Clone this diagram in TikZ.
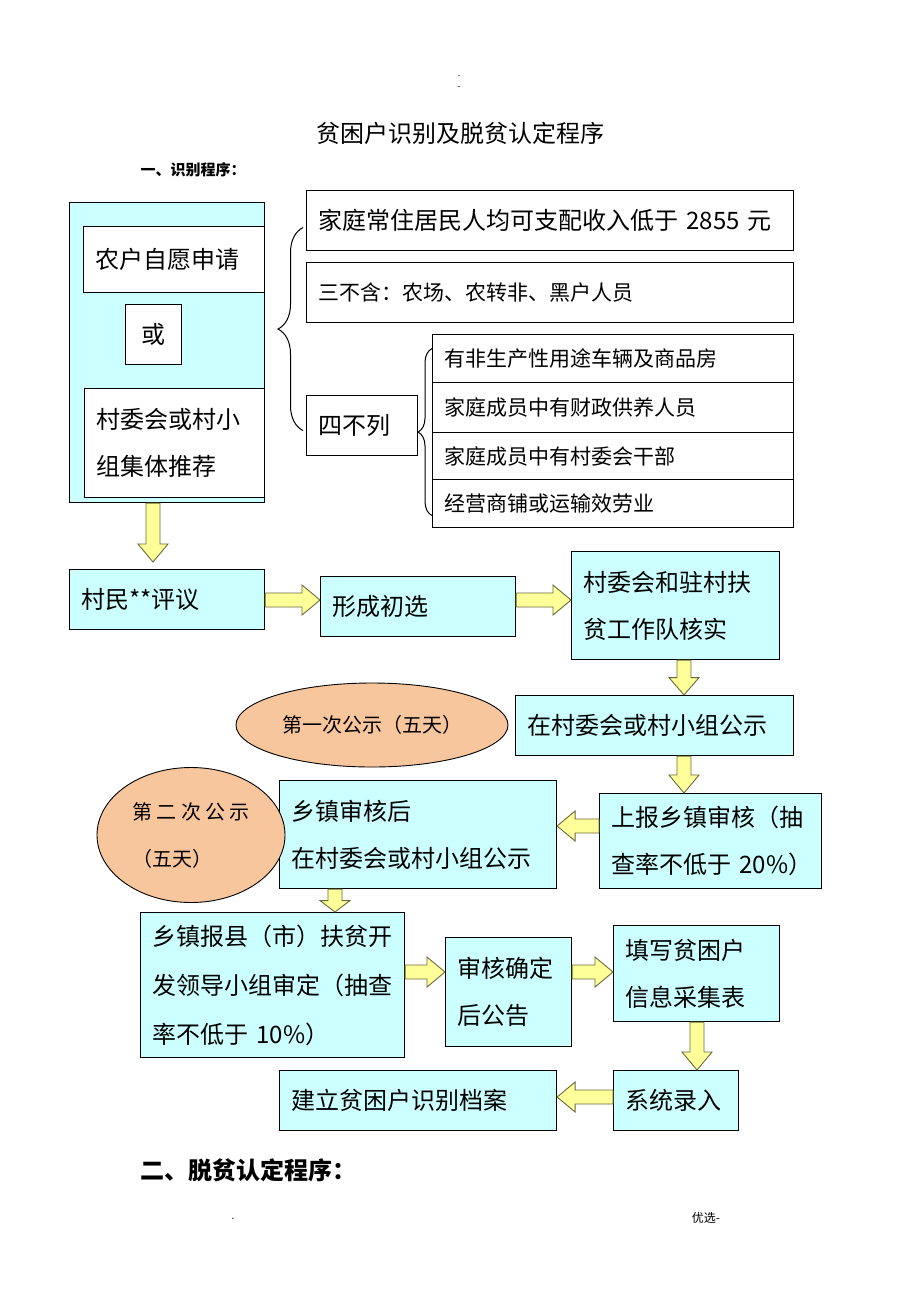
\documentclass[tikz,border=0pt]{standalone}
\usepackage{fontspec}
\setmainfont{Noto Sans CJK SC}
\usetikzlibrary{shapes.geometric,calc,decorations.pathreplacing}

\definecolor{boxcyan}{RGB}{204,255,255}
\definecolor{peach}{RGB}{248,198,156}
\definecolor{arrowyellow}{RGB}{255,255,153}
\definecolor{arrowline}{RGB}{105,105,60}

\tikzset{
  box/.style={draw=black, line width=1.1pt, fill=boxcyan, anchor=north west, inner xsep=12pt, inner ysep=0pt, align=left},
  wbox/.style={box, fill=white},
  oval/.style={ellipse, draw=black, line width=0.9pt, fill=peach, inner sep=0pt},
  fatarrow/.style={fill=arrowyellow, draw=arrowline, line width=0.9pt},
  bracket/.style={draw=black, line width=1pt, decorate},
  f24/.style={font=\fontsize{24}{47}\selectfont},
  f21/.style={font=\fontsize{21}{30}\selectfont},
  f20/.style={font=\fontsize{20}{47}\selectfont},
}

% fat block arrow from #1 to #2
\newcommand\fatarrow[2]{%
  \filldraw[fatarrow] let \p1=#1, \p2=#2,
    \n1={atan2(\y2-\y1,\x2-\x1)}, \n2={veclen(\x2-\x1,\y2-\y1)}, \n3={min(18,\n2/2)} in
    [shift={(\p1)}, rotate=\n1]
    (0,7) -- ({\n2-\n3},7) -- ({\n2-\n3},15) -- (\n2,0) -- ({\n2-\n3},-15) -- ({\n2-\n3},-7) -- (0,-7) -- cycle;}

\begin{document}
\begin{tikzpicture}[x=1pt,y=1pt]
  \useasboundingbox (0,0) rectangle (920,-1302);

  % page marks and headings
  \node[font=\fontsize{9}{10}\selectfont] (dot) at (459,-76) {.};
  \node[font=\fontsize{9}{10}\selectfont] (dash) at (459,-88) {-};
  \node[f24] (title) at (460,-133) {贫困户识别及脱贫认定程序};
  \node[anchor=west, font=\fontsize{15}{18}\selectfont\bfseries] (sec1) at (137,-170) {一、识别程序：};

  % application
  \node[box, minimum width=195pt, minimum height=300pt] (outer) at (69,-202) {};
  \node[wbox, f24, minimum width=181pt, minimum height=66pt, text width=157pt] (apply) at (83,-226) {农户自愿申请};
  \node[wbox, f24, minimum width=56pt, minimum height=60pt, inner xsep=0pt, text width=56pt, align=center] (or) at (125,-304) {或};
  \node[wbox, f24, minimum width=180pt, minimum height=109pt, text width=156pt] (recom) at (84,-388) {村委会或村小\\组集体推荐};

  % conditions
  \node[wbox, f24, minimum width=487pt, minimum height=60pt, text width=463pt] (inc) at (306,-190) {家庭常住居民人均可支配收入低于 2855 元};
  \node[wbox, f21, minimum width=487pt, minimum height=60pt, text width=463pt] (sanbu) at (306,-262) {三不含：农场、农转非、黑户人员};
  \node[wbox, f24, minimum width=111pt, minimum height=60pt, text width=87pt] (sibu) at (306,-395) {四不列};
  \node[wbox, f21, minimum width=361pt, minimum height=48pt, text width=337pt] (l1) at (432,-334) {有非生产性用途车辆及商品房};
  \node[wbox, f21, minimum width=361pt, minimum height=50pt, text width=337pt] (l2) at (432,-382) {家庭成员中有财政供养人员};
  \node[wbox, f21, minimum width=361pt, minimum height=47pt, text width=337pt] (l3) at (432,-432) {家庭成员中有村委会干部};
  \node[wbox, f21, minimum width=361pt, minimum height=48pt, text width=337pt] (l4) at (432,-479) {经营商铺或运输效劳业};
  \draw[bracket, decoration={brace, amplitude=25pt}] ([xshift=-3pt,yshift=-5pt]sibu.west) -- ([xshift=-3pt,yshift=-7pt]inc.west);
  \draw[bracket, decoration={brace, amplitude=14pt}] ([yshift=-12pt]l4.west) -- ([yshift=10pt]l1.west);

  % procedure
  \node[box, f24, minimum width=195pt, minimum height=60pt, text width=171pt] (pingyi) at (69,-569) {村民**评议};
  \node[box, f24, minimum width=195pt, minimum height=60pt, text width=171pt] (chuxuan) at (320,-576) {形成初选};
  \node[box, f24, minimum width=208pt, minimum height=108pt, text width=184pt] (hs) at (571,-551) {村委会和驻村扶\\贫工作队核实};
  \node[box, f24, minimum width=278pt, minimum height=60pt, text width=254pt] (gs1) at (515,-695) {在村委会或村小组公示};
  \node[oval, f20, minimum width=272pt, minimum height=84pt] (e1) at (372,-725) {第一次公示（五天）};
  \node[box, f24, minimum width=222pt, minimum height=95pt, text width=198pt] (sb) at (599,-793) {上报乡镇审核（抽\\\mbox{查率不低于~20\%）}};
  \node[box, f24, minimum width=277pt, minimum height=108pt, text width=253pt] (gs2) at (279,-780) {乡镇审核后\\在村委会或村小组公示};
  \node[oval, f20, minimum width=188pt, minimum height=135pt, align=left] (e2) at (191,-835) {第 二 次 公 示\\（五天）};
  \node[box, f24, font=\fontsize{24}{49}\selectfont, minimum width=264pt, minimum height=145pt, text width=240pt] (xian) at (140,-912) {乡镇报县（市）扶贫开\\发领导小组审定（抽查\\率不低于~10\%）};
  \node[box, f24, minimum width=126pt, minimum height=109pt, text width=102pt] (qd) at (445,-937) {审核确定\\后公告};
  \node[box, f24, minimum width=166pt, minimum height=96pt, text width=142pt] (tx) at (613,-925) {填写贫困户\\信息采集表};
  \node[box, f24, minimum width=125pt, minimum height=60pt, text width=101pt] (lr) at (613,-1070) {系统录入};
  \node[box, f24, minimum width=277pt, minimum height=60pt, text width=253pt] (da) at (279,-1070) {建立贫困户识别档案};

  \fatarrow{(outer.south -| 153,0)}{([yshift=7pt]pingyi.north -| 153,0)}
  \fatarrow{(pingyi.east |- 0,-600)}{(chuxuan.west |- 0,-600)}
  \fatarrow{(chuxuan.east |- 0,-600)}{(hs.west |- 0,-600)}
  \fatarrow{(hs.south -| 684,0)}{(gs1.north -| 684,0)}
  \fatarrow{(gs1.south -| 684,0)}{(sb.north -| 684,0)}
  \fatarrow{(sb.west |- 0,-826)}{(gs2.east |- 0,-826)}
  \fatarrow{(gs2.south -| 335,0)}{(xian.north -| 335,0)}
  \fatarrow{(xian.east |- 0,-972)}{(qd.west |- 0,-972)}
  \fatarrow{(qd.east |- 0,-972)}{(tx.west |- 0,-972)}
  \fatarrow{(tx.south -| 697,0)}{(lr.north -| 697,0)}
  \fatarrow{(lr.west |- 0,-1097)}{(da.east |- 0,-1097)}

  % second part and footer
  \node[anchor=west, font=\fontsize{24}{28}\selectfont\bfseries] (sec2) at (137,-1170) {二、脱贫认定程序：};
  \node[font=\fontsize{10}{12}\selectfont] (fdot) at (233,-1219) {.};
  \node[font=\fontsize{12}{14}\selectfont] (foot) at (706,-1218) {优选-};
\end{tikzpicture}
\end{document}
